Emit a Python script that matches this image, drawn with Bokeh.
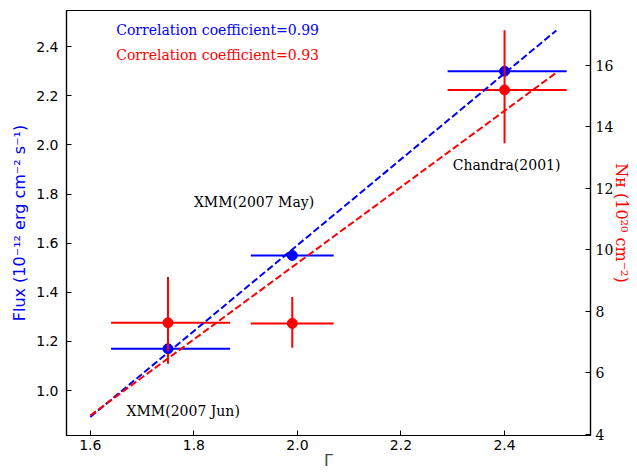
import numpy as np
from bokeh.plotting import figure
from bokeh.models import Range1d, LinearAxis, FixedTicker, PrintfTickFormatter
from bokeh.core.properties import value
from bokeh.embed import file_html
from bokeh.resources import INLINE

# ---- data ----
gamma = [1.75, 1.99, 2.40]
gamma_lo = [1.64, 1.91, 2.29]
gamma_hi = [1.87, 2.07, 2.52]
flux = [1.17, 1.55, 2.30]
nh = [7.63, 7.61, 15.19]
nh_lo = [6.30, 6.82, 13.46]
nh_hi = [9.12, 8.47, 17.13]
fit_x = [1.6, 2.5]
x_ticks = [1.6, 1.8, 2.0, 2.2, 2.4]
flux_ticks = [1.0, 1.2, 1.4, 1.6, 1.8, 2.0, 2.2, 2.4]
nh_ticks = [4, 6, 8, 10, 12, 14, 16]
labels = ["XMM(2007 Jun)", "XMM(2007 May)", "Chandra(2001)"]
label_x = [1.67, 1.80, 2.30]
label_y = [0.90, 1.75, 1.90]
corr_text = ["Correlation coefficient=0.99", "Correlation coefficient=0.93"]
corr_x = [1.65, 1.65]
corr_y = [2.45, 2.35]

# linear fits (same as the reference's dashed lines)
bf = np.polyfit(gamma, flux, 1)
rf = np.polyfit(gamma, nh, 1)
flux_fit = list(np.polyval(bf, fit_x))
nh_fit = list(np.polyval(rf, fit_x))

p = figure(width=637, height=472, output_backend="svg", toolbar_location=None,
           x_range=Range1d(1.554, 2.566), y_range=Range1d(0.817, 2.547),
           min_border_left=66, min_border_right=47, min_border_top=10,
           min_border_bottom=37)
p.extra_y_ranges = {"nh": Range1d(3.97, 17.77)}
p.grid.visible = False
p.outline_line_color = "black"
p.outline_line_width = 1.2
p.background_fill_color = "white"
p.border_fill_color = "white"

def style_axis(ax, font):
    ax.major_tick_in = 5
    ax.major_tick_out = 0
    ax.minor_tick_line_color = None
    ax.axis_line_color = "black"
    ax.axis_line_width = 1.2
    ax.major_tick_line_color = "black"
    ax.major_label_text_font = font
    ax.major_label_text_font_size = "14px"
    ax.major_label_text_color = "black"
    ax.axis_label_text_font_style = "normal"

xa = p.xaxis[0]
style_axis(xa, "DejaVu Sans")
xa.ticker = FixedTicker(ticks=x_ticks)
xa.formatter = PrintfTickFormatter(format="%.1f")
xa.axis_label = "Γ"
xa.axis_label_text_font = "DejaVu Sans"
xa.axis_label_text_font_size = "16px"
xa.major_label_standoff = 4
xa.axis_label_standoff = -2

ya = p.yaxis[0]
style_axis(ya, "DejaVu Sans")
ya.ticker = FixedTicker(ticks=flux_ticks)
ya.formatter = PrintfTickFormatter(format="%.1f")
ya.axis_label = "Flux (10⁻¹² erg cm⁻² s⁻¹)"
ya.axis_label_text_font = "DejaVu Sans"
ya.axis_label_text_font_size = "16px"
ya.axis_label_text_color = "blue"
ya.major_label_standoff = 8
ya.axis_label_standoff = 4

ra = LinearAxis(y_range_name="nh")
style_axis(ra, "DejaVu Serif")
ra.ticker = FixedTicker(ticks=nh_ticks)
ra.axis_label = "Nʜ (10²⁰ cm⁻²)"
ra.axis_label_text_font = "DejaVu Serif"
ra.axis_label_text_font_size = "16px"
ra.axis_label_text_color = "red"
ra.major_label_standoff = 5
ra.axis_label_standoff = -4
p.add_layout(ra, "right")

# blue: flux errorbars and points
p.segment(x0=gamma_lo, y0=flux, x1=gamma_hi, y1=flux, line_color="blue", line_width=2)
p.scatter(gamma, flux, size=10, fill_color="blue", line_color="blue")
# red: N_H errorbars and points
p.segment(x0=gamma_lo, y0=nh, x1=gamma_hi, y1=nh, line_color="red", line_width=2,
          y_range_name="nh")
p.segment(x0=gamma, y0=nh_lo, x1=gamma, y1=nh_hi, line_color="red", line_width=2,
          y_range_name="nh")
p.scatter(gamma, nh, size=10, fill_color="red", line_color="red", y_range_name="nh")

# fits
p.line(fit_x, flux_fit, line_color="blue", line_width=2, line_dash="7 3")
p.line(fit_x, nh_fit, line_color="red", line_width=2, line_dash="7 3", y_range_name="nh")

p.text(x=corr_x, y=corr_y, text=corr_text, text_color=["blue", "red"],
       text_font=value("DejaVu Serif"), text_font_size="14px",
       text_baseline="alphabetic", text_align="left", y_offset=-4)
p.text(x=label_x, y=label_y, text=labels, text_color="black",
       text_font=value("DejaVu Serif"), text_font_size="14px",
       text_baseline="alphabetic", text_align="left", y_offset=-4)

open("out.html", "w").write(file_html(p, INLINE))
